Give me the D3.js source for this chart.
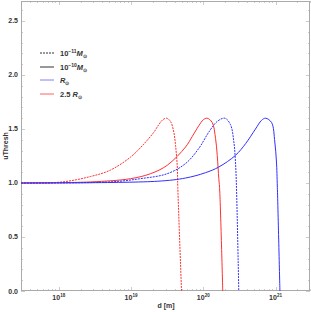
<!DOCTYPE html>
<html><head><meta charset="utf-8">
<script src="https://cdn.jsdelivr.net/npm/d3@7"></script>
<style>body{margin:0;background:#fff}svg{display:block}text{font-family:"Liberation Sans",Arial,sans-serif}</style>
</head><body>
<script>
// Data: [d (m), uThresh]
const redDashed = [[3e17,1.0],[1.06e18,1.008],[2.75e18,1.06],[5.2e18,1.12],[9.84e18,1.24],[1.5e19,1.36],[2.07e19,1.47],[2.42e19,1.54],[2.75e19,1.585],[3.1e19,1.60],[3.52e19,1.57],[3.91e19,1.47],[4.13e19,1.35],[4.36e19,1.16],[4.44e19,0.96],[5.0e19,0.0]];
const redSolid = [[3e17,1.0],[2.75e18,1.01],[9.84e18,1.04],[1.86e19,1.086],[3.17e19,1.164],[5.68e19,1.333],[7.03e19,1.43],[8.67e19,1.53],[1.0e20,1.585],[1.13e20,1.60],[1.33e20,1.56],[1.48e20,1.41],[1.56e20,1.256],[1.64e20,1.04],[1.68e20,0.96],[1.86e20,0.0]];
const blueDashed = [[3e17,1.0],[5.2e18,1.01],[1.35e19,1.04],[3.17e19,1.086],[5.68e19,1.18],[8.67e19,1.32],[1.19e20,1.47],[1.56e20,1.57],[1.99e20,1.60],[2.38e20,1.54],[2.65e20,1.38],[2.79e20,1.194],[2.88e20,0.96],[3.10e20,0.0]];
const blueSolid = [[3e17,1.0],[2.3e19,1.016],[5.68e19,1.046],[1.07e20,1.095],[1.64e20,1.148],[2.79e20,1.256],[3.85e20,1.364],[5.28e20,1.50],[6.4e20,1.58],[7.28e20,1.60],[8.81e20,1.56],[9.77e20,1.38],[1.03e21,1.194],[1.06e21,0.96],[1.15e21,0.0]];
const yTicks = [0, 0.5, 1.0, 1.5, 2.0, 2.5];
const yTickLabels = ["0.0","0.5","1.0","1.5","2.0","2.5"];
const xTickExps = [18, 19, 20, 21];
const legendLabels = [
  {pre:"10", sup:"\u221211", it:"M", sub:"\u2299"},
  {pre:"10", sup:"\u221210", it:"M", sub:"\u2299"},
  {pre:"", sup:"", it:"R", sub:"\u2299"},
  {pre:"2.5 ", sup:"", it:"R", sub:"\u2299"}
];
const xTitle = "d [m]", yTitle = "uThresh";

const W=311,H=312, L=21,R=310,T=1,B=291;
const svg=d3.select("body").append("svg").attr("width",W).attr("height",H);
const x=d3.scaleLog().domain([3e17,3e21]).range([L,R]);
const y=d3.scaleLinear().domain([0,2.685]).range([B,T]);
const frame="#aaaaaa";

svg.append("defs").append("clipPath").attr("id","clip").append("rect")
  .attr("x",L).attr("y",T).attr("width",R-L).attr("height",B-T);

svg.append("rect").attr("x",L+0.5).attr("y",T+0.5).attr("width",R-L-1).attr("height",B-T-1)
  .attr("fill","none").attr("stroke",frame).attr("stroke-width",1);

const tg=svg.append("g").attr("stroke",frame).attr("stroke-width",0.6);
for(let i=0;i<=26;i++){const v=i/10;const yy=Math.round(y(v))+0.5;const len=(i%5===0)?4:2;
  tg.append("line").attr("x1",L).attr("x2",L+len).attr("y1",yy).attr("y2",yy);
  tg.append("line").attr("x1",R).attr("x2",R-len).attr("y1",yy).attr("y2",yy);}
for(let e=17;e<=21;e++){for(let k=1;k<=9;k++){const v=k*Math.pow(10,e);if(v<3e17||v>3e21)continue;
  const xx=Math.round(x(v))+0.5;const len=(k===1)?4:2;
  tg.append("line").attr("x1",xx).attr("x2",xx).attr("y1",B).attr("y2",B-len);
  tg.append("line").attr("x1",xx).attr("x2",xx).attr("y1",T).attr("y2",T+len);}}

svg.append("g").selectAll("text").data(yTicks).join("text")
  .attr("x",L-3).attr("y",d=>y(d)+2.5).attr("text-anchor","end")
  .attr("font-size",7).attr("font-weight","bold").attr("fill","#333").text((d,i)=>yTickLabels[i]);
const xl=svg.append("g").selectAll("text").data(xTickExps).join("text")
  .attr("x",d=>x(Math.pow(10,d))).attr("y",B+9).attr("text-anchor","middle")
  .attr("font-size",7).attr("font-weight","bold").attr("fill","#333");
xl.append("tspan").text("10");
xl.append("tspan").attr("font-size",4.5).attr("dy",-3.5).text(d=>d);

svg.append("text").attr("x",166).attr("y",308).attr("text-anchor","middle").attr("font-size",7)
  .attr("font-weight","bold").attr("fill","#333").text(xTitle);
svg.append("text").attr("transform","translate(8,146) rotate(-90)").attr("text-anchor","middle")
  .attr("font-size",7).attr("font-weight","bold").attr("fill","#333").text(yTitle);

const line=d3.line().x(d=>x(d[0])).y(d=>y(d[1])).curve(d3.curveCatmullRom.alpha(0.5));
const g=svg.append("g").attr("clip-path","url(#clip)").attr("fill","none");
const series=[
  {data:redDashed,color:"#ff3030",dash:"2,1"},
  {data:redSolid,color:"#ff3030",dash:null},
  {data:blueDashed,color:"#3030ff",dash:"2,1"},
  {data:blueSolid,color:"#3030ff",dash:null}
];
series.forEach(s=>{g.append("path").attr("d",line(s.data)).attr("stroke",s.color)
  .attr("stroke-width",1).attr("stroke-dasharray",s.dash);});

const legY=[53,67,80,94];
const legStyle=[{c:"#333",dash:"2,1"},{c:"#333",dash:null},{c:"#8080ff",dash:null},{c:"#ff6060",dash:null}];
const lg=svg.append("g");
legendLabels.forEach((lab,i)=>{
  lg.append("line").attr("x1",40).attr("x2",54).attr("y1",legY[i]).attr("y2",legY[i])
    .attr("stroke",legStyle[i].c).attr("stroke-width",1).attr("stroke-dasharray",legStyle[i].dash);
  const t=lg.append("text").attr("x",60).attr("y",legY[i]+2.5).attr("font-size",7.5)
    .attr("font-weight","bold").attr("fill","#333");
  if(lab.pre) t.append("tspan").text(lab.pre);
  if(lab.sup) t.append("tspan").attr("font-size",5).attr("dy",-3).text(lab.sup);
  t.append("tspan").attr("font-style","italic").attr("dy",lab.sup?3:0).text(lab.it);
  t.append("tspan").attr("font-size",5).attr("dy",2).text(lab.sub);
});
</script>
</body></html>
